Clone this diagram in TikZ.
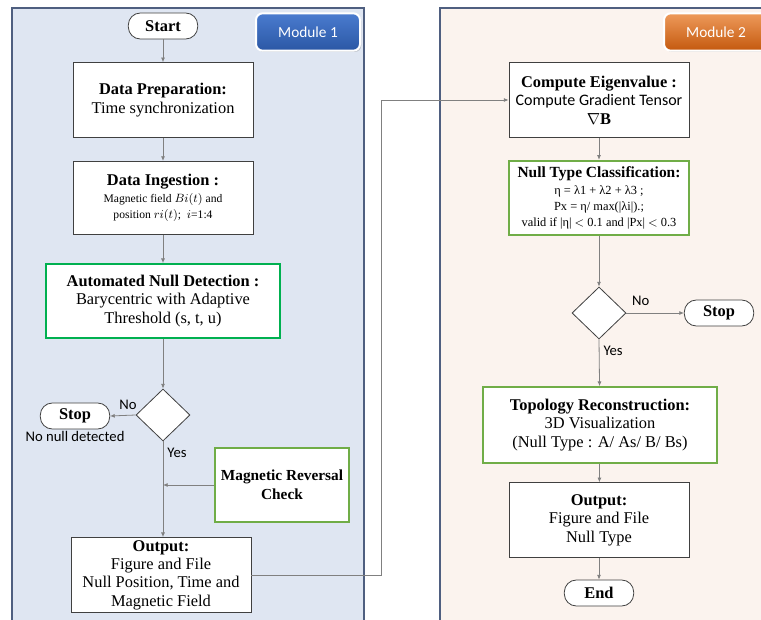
\documentclass[tikz,border=0pt]{standalone}
\usepackage{fontspec}
\setmainfont{Liberation Serif}
\newfontfamily\calib{Carlito}
\usetikzlibrary{shapes.geometric,arrows.meta,shadows}

\definecolor{panelblue}{HTML}{DFE6F2}
\definecolor{panelpeach}{HTML}{FBF3EE}
\definecolor{panelline}{HTML}{4F5F80}
\definecolor{boxline}{HTML}{404040}
\definecolor{connline}{HTML}{808080}
\definecolor{greenA}{HTML}{00B050}
\definecolor{greenB}{HTML}{70AD47}
\definecolor{tagbluetop}{HTML}{4A7CCF}
\definecolor{tagbluebot}{HTML}{2B57A5}
\definecolor{tagorgtop}{HTML}{EE9A5A}
\definecolor{tagorgbot}{HTML}{C4590F}

\begin{document}
\begin{tikzpicture}[x=0.75pt,y=-0.75pt]

\tikzset{procbox/.style={draw=boxline, fill=white, line width=0.6pt, align=center, minimum width=135pt, minimum height=56pt, inner sep=2pt, font=\fontsize{12.3}{13.8}\selectfont}}
\tikzset{greenbox/.style={procbox, draw=greenB, line width=1.3pt}}
\tikzset{termbox/.style={draw=boxline, fill=white, line width=0.6pt, rounded corners=9pt, minimum width=52pt, minimum height=19.5pt, inner sep=1pt, font=\fontsize{12.3}{13.8}\selectfont\bfseries}}
\tikzset{decbox/.style={diamond, draw=boxline, fill=white, line width=0.6pt, minimum width=40.5pt, minimum height=39pt, inner sep=0pt}}
\tikzset{conn/.style={draw=connline, line width=0.6pt, -{Latex[length=3.5pt,width=3pt]}}}
\tikzset{lbl/.style={font=\calib\fontsize{11}{13}\selectfont, inner sep=1pt}}
\tikzset{tag/.style={rounded corners=5pt, draw=white, line width=1.5pt, minimum width=78pt, minimum height=28pt, text=white, font=\calib\fontsize{11.5}{13}\selectfont, drop shadow={opacity=0.35, shadow xshift=1pt, shadow yshift=-1pt}}}

\useasboundingbox (0,0) rectangle (761,620);

% panels
\filldraw[fill=panelblue, draw=panelline, line width=0.8pt] (12,640) -- (12,8) -- (364,8) -- (364,640);
\fill[panelpeach] (440,8) rectangle (780,640);
\draw[panelline, line width=0.8pt] (440,640) -- (440,8) -- (780,8);

\node[tag, top color=tagbluetop, bottom color=tagbluebot] (tag1) at (308,32) {Module 1};
\node[tag, top color=tagorgtop, bottom color=tagorgbot] (tag2) at (716,32) {Module 2};

% module 1
\node[termbox] (start) at (163,26) {Start};
\node[procbox] (prep) at (163,100) {\textbf{Data Preparation:}\\Time synchronization};
\node[procbox, minimum height=55pt] (ingest) at (163,198) {\textbf{Data Ingestion :}\\[-1pt]{\fontsize{8.7}{10.5}\selectfont Magnetic field $Bi(t)$ and}\\[-2pt]{\fontsize{8.7}{10.5}\selectfont position $ri(t)$;\ \ $i$=1:4}};
\node[procbox, draw=greenA, line width=1.3pt, minimum width=175pt, minimum height=55.5pt] (detect) at (163,301) {\textbf{Automated Null Detection :}\\Barycentric with Adaptive\\Threshold (s, t, u)};
\node[decbox] (dec1) at (163,415) {};
\node[termbox] (stop1) at (75,416) {Stop};
\node[lbl, anchor=north] (nonull) at (stop1.south) {No null detected};
\node[greenbox, minimum width=101pt, minimum height=55.5pt, font=\fontsize{11.5}{14}\selectfont] (mrc) at (282,485) {\textbf{Magnetic Reversal}\\\textbf{Check}};
\node[procbox, minimum height=55pt] (out1) at (161,575) {\textbf{Output:}\\Figure and File\\Null Position, Time and\\Magnetic Field};

% module 2
\node[procbox] (eig) at (599,100) {\textbf{Compute Eigenvalue :}\\{\calib\fontsize{12}{13.8}\selectfont Compute Gradient Tensor}\\$\nabla\mathbf{B}$};
\node[greenbox] (ntc) at (599,198) {{\fontsize{11.6}{13.8}\selectfont\textbf{Null Type Classification:}}\\[-1pt]{\fontsize{9.3}{10.8}\selectfont η = λ1 + λ2 + λ3 ;}\\[-2pt]{\fontsize{9.3}{10.8}\selectfont Px = η/ max(|λi|).;}\\[-2pt]{\fontsize{9.3}{10.8}\selectfont valid if |η| $<$ 0.1 and |Px| $<$ 0.3}};
\node[decbox] (dec2) at (599,313) {};
\node[termbox] (stop2) at (719,313) {Stop};
\node[greenbox, minimum width=175.5pt, minimum height=57pt] (topo) at (600,425) {\textbf{Topology Reconstruction:}\\3D Visualization\\(Null Type : A/ As/ B/ Bs)};
\node[procbox] (out2) at (599,520) {\textbf{Output:}\\Figure and File\\Null Type};
\node[termbox] (end) at (599,593) {End};

% connectors
\coordinate (join) at (dec1 |- mrc);
\coordinate (elbow) at (381,0);
\draw[conn] (start) -- (prep);
\draw[conn] (prep) -- (ingest);
\draw[conn] (ingest) -- (detect);
\draw[conn] (detect) -- (dec1);
\draw[conn] (dec1.west) -- node[lbl, pos=0.3, above=3pt] {No} (stop1.east);
\draw[conn] (dec1.south) -- node[lbl, pos=0.12, right=2pt] {Yes} (out1.north -| dec1);
\draw[conn] (mrc.west) -- (join);
\draw[conn] (out1.east) -- (out1.east -| elbow) -- (eig.west -| elbow) -- (eig.west);
\draw[conn] (eig) -- (ntc);
\draw[conn] (ntc) -- (dec2);
\draw[conn] (dec2.east) -- node[lbl, pos=0.25, above=4pt] {No} (stop2.west);
\draw[conn] (dec2.south) -- node[lbl, pos=0.25, right=2pt] {Yes} (topo);
\draw[conn] (topo) -- (out2);
\draw[conn] (out2) -- (end);

\end{tikzpicture}
\end{document}
